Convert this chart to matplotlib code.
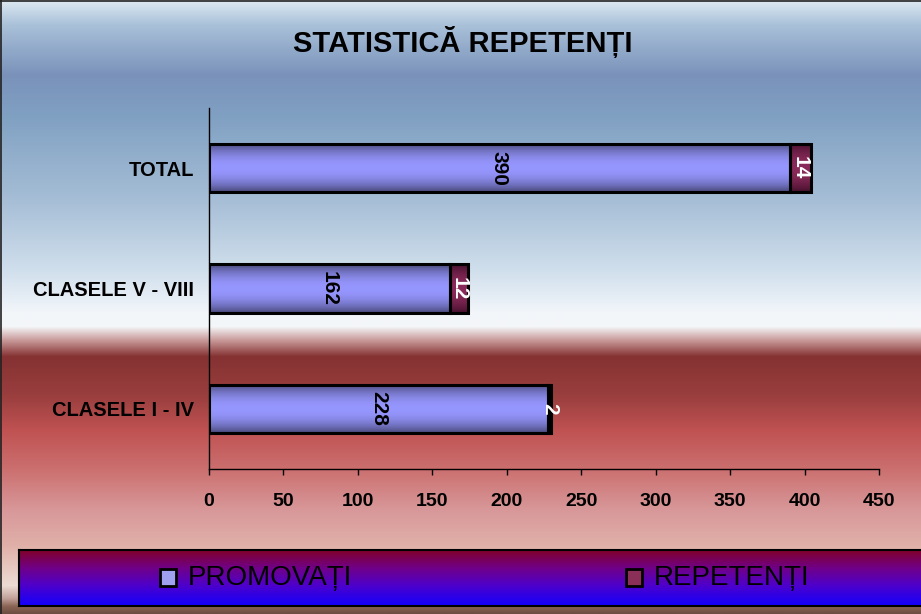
import numpy as np
import matplotlib
matplotlib.use('Agg')
import matplotlib.pyplot as plt
from matplotlib.colors import to_rgb
from matplotlib.patches import Rectangle
from matplotlib.lines import Line2D

plt.rcParams['font.family'] = ['Liberation Sans', 'DejaVu Sans']

# ---------------- data ----------------
categories = ['CLASELE I - IV', 'CLASELE V - VIII', 'TOTAL']
promovati = [228, 162, 390]
repetenti = [2, 12, 14]
series_names = ['PROMOVAȚI', 'REPETENȚI']
xticks = [0, 50, 100, 150, 200, 250, 300, 350, 400, 450]
title = 'STATISTICĂ REPETENȚI'

# ---------------- layout / style ----------------
W, H = 921, 614
fig = plt.figure(figsize=(W / 100, H / 100), dpi=100)

# background vertical gradient (pixel row from top, colour)
bg_stops = [(0, '#dde9f2'), (25, '#a8c0d8'), (75, '#7a92ba'), (115, '#80a0c2'),
            (200, '#a6bed6'), (270, '#d0dfec'), (312, '#f2f6fa'), (326, '#f4f6f8'),
            (340, '#c89898'), (356, '#853232'), (395, '#9a3e3e'), (430, '#c05252'),
            (470, '#cc7070'), (510, '#d8989a'), (545, '#e0b0a8'), (585, '#ecdcd4'),
            (598, '#c0a098'), (606, '#8a6454'), (614, '#6a4a40')]


def vgrad(stops, n):
    ys = np.array([s[0] for s in stops], float)
    cs = np.array([to_rgb(s[1]) for s in stops])
    rows = np.arange(n)
    img = np.stack([np.interp(rows, ys, cs[:, k]) for k in range(3)], axis=-1)
    return img[:, None, :]


bg = fig.add_axes([0, 0, 1, 1], zorder=-10)
bg.imshow(vgrad(bg_stops, H), aspect='auto', extent=[0, 1, 0, 1], interpolation='bilinear')
bg.set_axis_off()

# border lines (top / left)
fig.add_artist(Line2D([0, 1], [1 - 0.5 / H, 1 - 0.5 / H], color='#222222', lw=1.2, transform=fig.transFigure))
fig.add_artist(Line2D([0.5 / W, 0.5 / W], [0, 1], color='#222222', lw=1.2, transform=fig.transFigure))

# main axes
ax_top, ax_bot = 108, 469
ax = fig.add_axes([209 / W, 1 - ax_bot / H, 670 / W, (ax_bot - ax_top) / H])
ax.patch.set_alpha(0)

y = np.arange(len(categories))
bar_h = 0.4
b1 = ax.barh(y, promovati, height=bar_h, color='none', edgecolor='black', linewidth=2.2, zorder=4)
b2 = ax.barh(y, repetenti, left=promovati, height=bar_h, color='none', edgecolor='black', linewidth=2.2, zorder=4)


def bar_grad(center, edge, n=64, p=2.0):
    t = np.linspace(0, 1, n)
    d = np.abs(t - 0.5) * 2
    w = d ** p
    c = np.array(to_rgb(center))
    e = np.array(to_rgb(edge))
    img = c[None, :] * (1 - w[:, None]) + e[None, :] * w[:, None]
    return img[:, None, :]


g1 = bar_grad('#9696ff', '#4a4a7c')
g2 = bar_grad('#8a2a5a', '#45102c')
for bars, g in ((b1, g1), (b2, g2)):
    for r in bars:
        x0, y0, w, h = r.get_x(), r.get_y(), r.get_width(), r.get_height()
        ax.imshow(g, extent=[x0, x0 + w, y0, y0 + h], aspect='auto', zorder=3,
                  origin='lower', interpolation='bilinear')

# value labels
for yi, p, r in zip(y, promovati, repetenti):
    ax.text(p / 2, yi, str(p), rotation=270, ha='center', va='center',
            fontsize=15, fontweight='bold', color='black', zorder=5)
    ax.text(p + r / 2, yi, str(r), rotation=270, ha='center', va='center',
            fontsize=15, fontweight='bold', color='white', zorder=5)

ax.set_xlim(0, 450)
ax.set_ylim(-0.5, len(categories) - 0.5)
ax.set_xticks(xticks)
ax.set_xticklabels([str(v) for v in xticks], fontsize=14, fontweight='bold')
ax.set_yticks(y)
ax.set_yticklabels(categories, fontsize=14.5, fontweight='bold')
ax.tick_params(axis='y', length=0, pad=11)
ax.tick_params(axis='x', direction='out', length=4, width=1, pad=13, colors='black')
for s in ('top', 'right'):
    ax.spines[s].set_visible(False)
for s in ('left', 'bottom'):
    ax.spines[s].set_color('black')
    ax.spines[s].set_linewidth(1)

# title
fig.text(463 / W, 1 - 42 / H, title, ha='center', va='center', fontsize=21, fontweight='bold')

# legend box with gradient
lx0, ly0, lx1, ly1 = 19, 550, W + 5, 606
lax = fig.add_axes([lx0 / W, 1 - ly1 / H, (lx1 - lx0) / W, (ly1 - ly0) / H], zorder=5)
leg_stops = [(0, '#80002a'), (18, '#70008a'), (34, '#5000c8'), (56, '#1000ff')]
lax.imshow(vgrad(leg_stops, ly1 - ly0), aspect='auto', extent=[lx0, lx1, 0, 1],
           interpolation='bilinear')
lax.set_xlim(lx0, lx1)
lax.set_ylim(0, 1)
lax.set_xticks([])
lax.set_yticks([])
for s in lax.spines.values():
    s.set_color('black')
    s.set_linewidth(1.5)

marker_x = [160, 626]
marker_colors = ['#a0a0f0', '#8a3058']
for name, mx, mc in zip(series_names, marker_x, marker_colors):
    lax.add_patch(Rectangle((mx, 0.36), 16, 0.30, facecolor=mc, edgecolor='black', lw=2, zorder=3))
    lax.text(mx + 28, 0.5, name, ha='left', va='center', fontsize=20, color='black', zorder=3)

fig.savefig('out.png', dpi=100)
